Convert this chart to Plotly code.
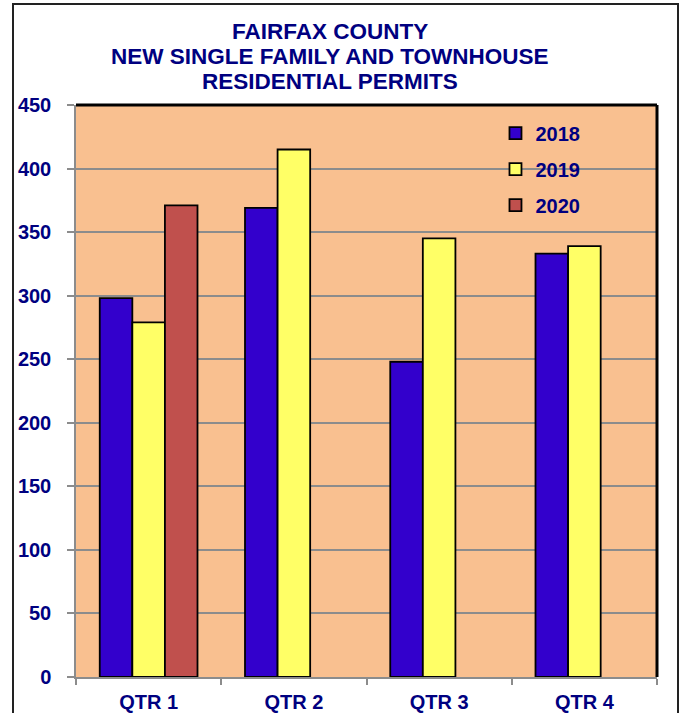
import plotly.graph_objects as go

categories = ["QTR 1", "QTR 2", "QTR 3", "QTR 4"]
years = ["2018", "2019", "2020"]
values_2018 = [298, 369, 248, 333]
values_2019 = [279, 415, 345, 339]
values_2020 = [371, None, None, None]
colors = ["#3300CC", "#FFFF66", "#C0504D"]
y_ticks = [0, 50, 100, 150, 200, 250, 300, 350, 400, 450]
title_lines = ["FAIRFAX COUNTY", "NEW SINGLE FAMILY AND TOWNHOUSE", "RESIDENTIAL PERMITS"]

NAVY = "#000080"
FONT = "Liberation Sans"

fig = go.Figure()
for name, vals, col in zip(years, [values_2018, values_2019, values_2020], colors):
    fig.add_trace(go.Bar(
        x=categories, y=vals, name=name, legendgroup=name,
        marker=dict(color=col, line=dict(color="#000000", width=1.8)),
    ))

fig.update_layout(
    width=683, height=713,
    margin=dict(l=76, r=26, t=105, b=36, autoexpand=False),
    paper_bgcolor="#FFFFFF",
    plot_bgcolor="#F9C090",
    barmode="group",
    bargap=0.327, bargroupgap=0,
    font=dict(family=FONT, color=NAVY),
    legend=dict(
        x=0.722, y=0.985, xanchor="left", yanchor="top",
        bgcolor="rgba(0,0,0,0)",
        font=dict(family=FONT, size=20, color=NAVY, weight="bold"),
        traceorder="grouped", tracegroupgap=7,
    ),
    showlegend=True,
)

# title as three centred lines
for i, line in enumerate(title_lines):
    fig.add_annotation(
        text=line, showarrow=False,
        xref="paper", yref="paper", x=0.437, xanchor="center",
        y=(677 - (31 + 25 * i)) / 572, yanchor="middle",
        font=dict(family=FONT, size=22.5, color=NAVY, weight="bold"),
    )

fig.update_yaxes(
    range=[0, 450], tickvals=y_ticks, automargin=False,
    showgrid=True, gridcolor="#8C8C8C", gridwidth=1.5,
    showline=True, linecolor="#8C8C8C", linewidth=1.5,
    ticks="outside", ticklen=7, tickcolor="#8C8C8C", tickwidth=1.5,
    ticklabelstandoff=12,
    tickfont=dict(family=FONT, size=20, color=NAVY, weight="bold"),
    zeroline=False,
)
fig.update_xaxes(
    automargin=False,
    showline=True, linecolor="#8C8C8C", linewidth=1.5,
    ticks="outside", ticklen=6, tickcolor="#8C8C8C", tickwidth=1.5,
    tickson="boundaries",
    ticklabelstandoff=6,
    tickfont=dict(family=FONT, size=20, color=NAVY, weight="bold"),
)

# plot area top and right borders
fig.add_shape(type="line", xref="paper", yref="paper", x0=0, x1=1, y0=1, y1=1,
              line=dict(color="#000000", width=3))
fig.add_shape(type="line", xref="paper", yref="paper", x0=1, x1=1, y0=0, y1=1,
              line=dict(color="#000000", width=3))
# outer chart border
fig.add_shape(type="rect", xref="paper", yref="paper",
              x0=(13 - 76) / 581, x1=(678 - 76) / 581,
              y0=(677 - 730) / 572, y1=(677 - 4) / 572,
              line=dict(color="#222222", width=2), layer="below")

fig.write_html("out.html",
               config={"displayModeBar": False},
               post_script="document.body.style.margin='0';document.body.style.overflow='hidden';")
